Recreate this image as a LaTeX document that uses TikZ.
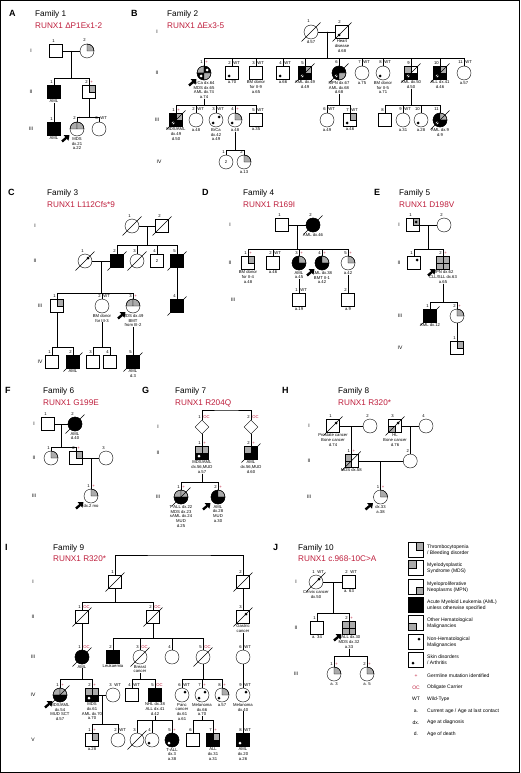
\documentclass[tikz,border=0pt]{standalone}
\usepackage{fontspec}
\setmainfont{Liberation Sans}
\usetikzlibrary{calc,shapes.geometric,arrows.meta}
\definecolor{runx}{RGB}{190,30,60}
\def\hs{6.5}
\newcommand{\tny}{\fontsize{4.2}{4.7}\selectfont}
\newcommand{\gsz}{\fontsize{5}{6}\selectfont}
\newcommand{\hdr}{\fontsize{8.2}{9}\selectfont}
\newcommand{\pl}{\textcolor{runx}{+}}
\newcommand{\oc}{\textcolor{runx}{OC}}
\tikzset{
  msym/.style={draw, rectangle, minimum size={2*\hs*1pt}, inner sep=0pt, font=\tny},
  fsym/.style={draw, circle, minimum size=14pt, inner sep=0pt, font=\tny},
  dsym/.style={draw, diamond, minimum size=14pt, inner sep=0pt},
  qW/.style={}, qG/.style={fill=black!33, draw}, qK/.style={fill=black, draw},
  inf/.style={anchor=north, align=center, font=\tny, inner sep=0pt},
  gen/.style={font=\gsz, inner sep=0pt},
  parr/.style={-{Triangle[length=4.5pt,width=7pt]}, line width=2.4pt},
  lgd/.style={anchor=west, align=left, font=\fontsize{5}{6}\selectfont, inner sep=0pt},
}
% symbols: [inner text]{name}{x,y}{UL}{UR}{LL}{LR}
\newcommand{\Sq}[7][]{%
  \path[q#4] (#3) rectangle ++(-\hs,-\hs);
  \path[q#5] (#3) rectangle ++(\hs,-\hs);
  \path[q#6] (#3) rectangle ++(-\hs,\hs);
  \path[q#7] (#3) rectangle ++(\hs,\hs);
  \node[msym] (#2) at (#3) {#1};}
\newcommand{\Ci}[7][]{%
  \path[q#4] (#3) -- ++(180:7) arc (180:270:7) -- cycle;
  \path[q#5] (#3) -- ++(270:7) arc (270:360:7) -- cycle;
  \path[q#6] (#3) -- ++(90:7) arc (90:180:7) -- cycle;
  \path[q#7] (#3) -- ++(0:7) arc (0:90:7) -- cycle;
  \node[fsym] (#2) at (#3) {#1};}
\newcommand{\Num}[3]{%
  \node[anchor=base east, font=\tny, inner sep=0pt] (#1-n) at ([xshift=-1pt,yshift=1.8pt]#1.north) {#2};
  \node[anchor=base west, font=\tny, inner sep=0pt] (#1-m) at ([xshift=1.2pt,yshift=1.8pt]#1.north) {#3};}
\newcommand{\Inf}[2]{\node[inf] (#1-i) at ([yshift=-1pt]#1.south) {#2};}
\newcommand{\Dead}[1]{\draw ([xshift=-9.5pt,yshift=-9.5pt]#1.center) -- ([xshift=9.5pt,yshift=9.5pt]#1.center);}
\newcommand{\DUR}[2][black]{\fill[#1] ([xshift=3pt,yshift=3pt]#2.center) circle (1.5);}
\newcommand{\DLL}[2][black]{\fill[#1] ([xshift=-3pt,yshift=-3pt]#2.center) circle (1.5);}
\newcommand{\Prob}[1]{\draw[parr] ([xshift=-15pt,yshift=-12.5pt]#1.center) -- ([xshift=-7.5pt,yshift=-6pt]#1.center);}
\newcommand{\Sib}[3]{\coordinate (sb) at (0,#2);
  \foreach \kid in {#3}{\draw (#1) -- (#1 |- sb) -| (\kid.north);}}
\newcommand{\Mate}[3]{\draw (#2.east) -- (#3.west);
  \coordinate (#1) at ($(#2.east)!.5!(#3.west)$);}
\newcommand{\Fam}[7]{%
  \node[anchor=base west, font=\fontsize{9}{10}\selectfont\bfseries, inner sep=0pt] (#1-l) at (#2,#4) {#5};
  \node[anchor=base west, font=\hdr, inner sep=0pt] (#1-f) at (#3,#4) {Family #6};
  \node[anchor=base west, font=\hdr, text=runx, inner sep=0pt] (#1-r) at (#3,#4+11.5) {RUNX1 #7};}

\begin{document}
\begin{tikzpicture}[x=1pt,y=-1pt]
\useasboundingbox (0,0) rectangle (520,773);
\draw[line width=1.2pt] (0.6,0.6) rectangle (519.4,772.4);

%%%%% Family 1 %%%%%
\Fam{hA}{9}{35}{17}{A}{1}{ΔP1Ex1-2}
\node[gen] (gA1) at (31,51) {I};
\node[gen] (gA2) at (31,92) {II};
\node[gen] (gA3) at (31,129) {III};
\Sq{A1-1}{56,51}{W}{W}{W}{W} \Num{A1-1}{1}{}
\Ci{A1-2}{87,51}{W}{G}{W}{W} \Num{A1-2}{2}{}
\Sq{A2-1}{54,92}{K}{K}{K}{K} \Num{A2-1}{1}{} \Inf{A2-1}{AML}
\Sq{A2-2}{89,92}{W}{G}{W}{W} \Num{A2-2}{2}{\pl}
\Sq{A3-1}{54,129}{K}{K}{K}{K} \Num{A3-1}{1}{} \Inf{A3-1}{AML}
\Ci{A3-2}{77,129}{G}{G}{W}{W} \Num{A3-2}{2}{\pl} \Inf{A3-2}{MDS\\dx.21\\a.22} \Prob{A3-2}
\Ci{A3-3}{99,129}{W}{W}{W}{W} \Num{A3-3}{3}{WT}
\Mate{mA1}{A1-1}{A1-2}
\Sib{mA1}{78}{A2-1,A2-2}
\draw (A2-1-i.south) -- (A3-1.north);
\Sib{A2-2.south}{117}{A3-2,A3-3}

%%%%% Family 2 %%%%%
\Fam{hB}{131}{167}{17}{B}{2}{ΔEx3-5}
\node[gen] (gB1) at (157,32) {I};
\node[gen] (gB2) at (157,73) {II};
\node[gen] (gB3) at (157,120) {III};
\node[gen] (gB4) at (159,162) {IV};
\Ci{B1-1}{311,32}{W}{W}{W}{W} \Num{B1-1}{1}{} \Dead{B1-1} \Inf{B1-1}{d.57}
\Sq{B1-2}{342,32}{W}{W}{W}{W} \DLL{B1-2} \Dead{B1-2} \Num{B1-2}{2}{} \Inf{B1-2}{Heart\\disease\\d.68}
\Ci{B2-1}{204,73}{G}{K}{K}{G} \DUR[white]{B2-1} \DLL[white]{B2-1} \Num{B2-1}{1}{\pl} \Prob{B2-1}
\Inf{B2-1}{BrCa dx.64\\MDS dx.65\\AML dx.74\\a.74}
\Sq{B2-2}{232,73}{W}{W}{W}{W} \DLL{B2-2} \Num{B2-2}{2}{WT} \Inf{B2-2}{a.70}
\Sq{B2-3}{256,73}{W}{W}{W}{W} \Num{B2-3}{3}{WT} \Inf{B2-3}{BM donor\\for II-9\\a.65}
\Sq{B2-4}{283,73}{W}{W}{W}{W} \DLL{B2-4} \Num{B2-4}{4}{WT} \Inf{B2-4}{a.66}
\Sq{B2-5}{305,73}{K}{G}{K}{K} \DLL[white]{B2-5} \Dead{B2-5} \Num{B2-5}{5}{} \Inf{B2-5}{AML dx.49\\d.49}
\Ci{B2-6}{339,73}{K}{K}{K}{G} \DLL[white]{B2-6} \Dead{B2-6} \Num{B2-6}{6}{} \Inf{B2-6}{MPN dx.67\\AML dx.68\\d.68}
\Ci{B2-7}{362,73}{W}{W}{W}{W} \Num{B2-7}{7}{WT} \Inf{B2-7}{a.75}
\Ci{B2-8}{383,73}{W}{W}{W}{W} \DLL{B2-8} \Num{B2-8}{8}{WT} \Inf{B2-8}{BM donor\\for II-5\\a.71}
\Sq{B2-9}{411,73}{G}{W}{K}{K} \DLL[white]{B2-9} \Dead{B2-9} \Num{B2-9}{9}{} \Inf{B2-9}{AML dx.50\\d.50}
\Sq{B2-10}{440,73}{K}{G}{K}{K} \DLL[white]{B2-10} \Dead{B2-10} \Num{B2-10}{10}{} \Inf{B2-10}{ALL dx.41\\d.46}
\Ci{B2-11}{464,73}{W}{W}{W}{W} \Num{B2-11}{11}{WT} \Inf{B2-11}{a.57}
\Sq{B3-1}{176,120}{K}{G}{K}{K} \DLL[white]{B3-1} \Dead{B3-1} \Num{B3-1}{1}{\pl} \Inf{B3-1}{MDS/AML\\dx.49\\d.50}
\Ci{B3-2}{196,120}{W}{W}{W}{W} \Num{B3-2}{2}{WT} \Inf{B3-2}{a.48}
\Ci{B3-3}{216,120}{W}{W}{W}{W} \DUR{B3-3} \DLL{B3-3} \Num{B3-3}{3}{WT} \Inf{B3-3}{BrCa\\dx.42\\a.49}
\Ci{B3-4}{235,120}{W}{G}{W}{W} \DLL{B3-4} \Num{B3-4}{4}{\pl} \Inf{B3-4}{a.48}
\Sq{B3-5}{256,120}{W}{W}{W}{W} \Num{B3-5}{5}{WT} \Inf{B3-5}{a.35}
\Ci{B3-6}{327,120}{W}{W}{W}{W} \Num{B3-6}{6}{WT} \Inf{B3-6}{a.49}
\Sq{B3-7}{350,120}{W}{G}{W}{W} \DLL{B3-7} \Num{B3-7}{7}{WT} \Inf{B3-7}{a.46}
\Sq{B3-8}{385,120}{W}{W}{W}{W} \Num{B3-8}{8}{}
\Ci{B3-9}{403,120}{W}{W}{W}{W} \Num{B3-9}{9}{WT} \Inf{B3-9}{a.31}
\Ci{B3-10}{421,120}{W}{W}{W}{W} \DLL{B3-10} \Num{B3-10}{10}{} \Inf{B3-10}{a.28}
\Ci{B3-11}{440,120}{K}{G}{K}{K} \DLL[white]{B3-11} \Dead{B3-11} \Num{B3-11}{11}{} \Inf{B3-11}{AML dx.9\\d.9}
\Ci[2]{B4-1}{226,162}{W}{W}{W}{W} \Num{B4-1}{1}{}
\Ci{B4-2}{244,162}{W}{G}{W}{W} \Num{B4-2}{2}{} \Inf{B4-2}{a.13}
\Mate{mB1}{B1-1}{B1-2}
\Sib{mB1}{58}{B2-1,B2-2,B2-3,B2-4,B2-5,B2-6,B2-7,B2-8,B2-9,B2-10,B2-11}
\Sib{B2-1-i.south}{105}{B3-1,B3-2,B3-3,B3-4,B3-5}
\Sib{B2-6-i.south}{105}{B3-6,B3-7}
\Sib{B2-9-i.south}{105}{B3-8,B3-9,B3-10,B3-11}
\Sib{B3-4-i.south}{150}{B4-1,B4-2}

%%%%% Family 3 %%%%%
\Fam{hC}{8}{47}{195.5}{C}{3}{L112Cfs*9}
\node[gen] (gC1) at (35,226) {I};
\node[gen] (gC2) at (35,261) {II};
\node[gen] (gC3) at (40,306) {III};
\node[gen] (gC4) at (40,362) {IV};
\Ci{C1-1}{132,226}{W}{W}{W}{W} \Dead{C1-1} \Num{C1-1}{1}{}
\Sq{C1-2}{162,226}{W}{W}{W}{W} \Dead{C1-2} \Num{C1-2}{2}{}
\Ci{C2-1}{85,261}{W}{W}{W}{W} \DUR{C2-1} \Dead{C2-1} \Num{C2-1}{1}{}
\Sq{C2-2}{117,261}{K}{K}{K}{K} \Dead{C2-2} \Num{C2-2}{2}{}
\Ci{C2-3}{137,261}{W}{W}{W}{W} \Dead{C2-3} \Num{C2-3}{3}{}
\Sq[2]{C2-4}{157,261}{W}{W}{W}{W} \Num{C2-4}{4}{}
\Sq{C2-5}{177,261}{K}{K}{K}{K} \Dead{C2-5} \Num{C2-5}{5}{}
\Sq{C3-1}{57,306}{W}{G}{W}{W} \Num{C3-1}{1}{}
\Ci{C3-2}{102,306}{W}{W}{W}{W} \Num{C3-2}{2}{WT} \Inf{C3-2}{BM donor\\for III-3}
\Ci{C3-3}{133,306}{G}{G}{W}{W} \Num{C3-3}{3}{\pl} \Prob{C3-3} \Inf{C3-3}{MDS dx.49\\BMT\\from III-2}
\Sq{C3-4}{177,306}{K}{K}{K}{K} \Dead{C3-4} \Num{C3-4}{4}{}
\Sq{C4-1}{52,362}{W}{W}{W}{W} \Num{C4-1}{1}{}
\Sq{C4-2}{73,362}{K}{K}{K}{K} \Dead{C4-2} \Num{C4-2}{2}{} \Inf{C4-2}{AML}
\Sq{C4-3}{93,362}{W}{W}{W}{W} \Num{C4-3}{3}{}
\Sq{C4-4}{110,362}{W}{W}{W}{W} \Num{C4-4}{4}{}
\Sq{C4-5}{133,362}{K}{K}{K}{K} \Dead{C4-5} \Num{C4-5}{5}{} \Inf{C4-5}{AML\\d.3}
\Mate{mC1}{C1-1}{C1-2}
\Sib{mC1}{245}{C2-2,C2-3,C2-4,C2-5}
\Mate{mC2}{C2-1}{C2-2}
\Sib{mC2}{293}{C3-1,C3-2,C3-3}
\draw (C2-5.south) -- (C3-4.north);
\Sib{C3-1.south}{347}{C4-1,C4-2}
\Sib{C3-2-i.south}{347}{C4-3,C4-4}
\draw (C3-3-i.south) -- (C4-5.north);

%%%%% Family 4 %%%%%
\Fam{hD}{202}{243}{195.5}{D}{4}{R169I}
\node[gen] (gD1) at (230,225) {I};
\node[gen] (gD2) at (230,263) {II};
\node[gen] (gD3) at (233,300) {III};
\Sq{D1-1}{282,225}{W}{W}{W}{W} \Num{D1-1}{1}{}
\Ci{D1-2}{313,225}{K}{K}{K}{K} \Dead{D1-2} \Num{D1-2}{2}{} \Inf{D1-2}{AML dx.46}
\Sq{D2-1}{248,263}{W}{G}{W}{W} \Num{D2-1}{1}{\pl} \Inf{D2-1}{BM donor\\for II-4\\a.48}
\Sq{D2-2}{273,263}{W}{W}{W}{W} \Num{D2-2}{2}{WT} \Inf{D2-2}{a.46}
\Ci{D2-3}{299,263}{K}{G}{K}{K} \Num{D2-3}{3}{\pl} \Inf{D2-3}{AML\\a.45}
\Ci{D2-4}{322,263}{K}{G}{K}{K} \Num{D2-4}{4}{\pl} \Prob{D2-4} \Inf{D2-4}{AML dx.38\\BMT II-1\\a.42}
\Ci{D2-5}{348,263}{W}{G}{W}{W} \Num{D2-5}{5}{\pl} \Inf{D2-5}{a.42}
\Sq{D3-1}{299,300}{W}{W}{W}{W} \Num{D3-1}{1}{WT} \Inf{D3-1}{a.19}
\Sq{D3-2}{348,300}{W}{W}{W}{W} \Num{D3-2}{2}{} \Inf{D3-2}{a.9}
\Mate{mD1}{D1-1}{D1-2}
\Sib{mD1}{249}{D2-1,D2-2,D2-3,D2-4,D2-5}
\draw (D2-3-i.south) -- (D3-1.north);
\draw (D2-5-i.south) -- (D3-2.north);

%%%%% Family 5 %%%%%
\Fam{hE}{374}{399}{195.5}{E}{5}{D198V}
\node[gen] (gE1) at (399,225) {I};
\node[gen] (gE2) at (399,263) {II};
\node[gen] (gE3) at (400,316) {III};
\node[gen] (gE4) at (400,348) {IV};
\Sq{E1-1}{413,225}{W}{G}{W}{W} \DUR{E1-1} \Num{E1-1}{1}{}
\Ci{E1-2}{444,225}{W}{W}{W}{W} \Num{E1-2}{2}{}
\Sq{E2-1}{414,263}{W}{W}{W}{W} \DUR{E2-1} \Num{E2-1}{1}{}
\Sq{E2-2}{443,263}{G}{G}{G}{G} \Num{E2-2}{2}{\pl} \Prob{E2-2} \Inf{E2-2}{MPN dx.62\\CLL/SLL dx.63\\a.65}
\Sq{E3-1}{430,316}{K}{K}{K}{K} \Dead{E3-1} \Num{E3-1}{1}{} \Inf{E3-1}{AML dx.12}
\Ci{E3-2}{457,316}{W}{G}{W}{W} \Num{E3-2}{2}{\pl}
\Sq{E4-1}{457,348}{W}{G}{W}{W} \Num{E4-1}{1}{}
\Mate{mE1}{E1-1}{E1-2}
\Sib{mE1}{249}{E2-1,E2-2}
\Sib{E2-2-i.south}{302}{E3-1,E3-2}
\draw (E3-2.south) -- (E4-1.north);

%%%%% Family 6 %%%%%
\Fam{hF}{5}{43}{393.5}{F}{6}{G199E}
\node[gen] (gF1) at (34,424) {I};
\node[gen] (gF2) at (34,458) {II};
\node[gen] (gF3) at (34,496) {III};
\Sq{F1-1}{48,424}{W}{W}{W}{W} \Num{F1-1}{1}{}
\Ci{F1-2}{75,424}{K}{K}{K}{K} \Dead{F1-2} \Num{F1-2}{2}{} \Inf{F1-2}{AML\\d.40}
\Ci{F2-1}{51,458}{W}{G}{W}{W} \Num{F2-1}{1}{}
\Sq{F2-2}{76,458}{W}{G}{W}{W} \Num{F2-2}{2}{\pl}
\Ci{F2-3}{106,458}{W}{W}{W}{W} \Num{F2-3}{3}{}
\Ci{F3-1}{91,496}{W}{G}{W}{W} \Num{F3-1}{1}{\pl} \Prob{F3-1} \Inf{F3-1}{dx.2 mo}
\Mate{mF1}{F1-1}{F1-2}
\Sib{mF1}{447}{F2-1,F2-2}
\Mate{mF2}{F2-2}{F2-3}
\draw (mF2) -- (mF2 |- F3-1.north);

%%%%% Family 7 %%%%%
\Fam{hG}{142}{175}{393.5}{G}{7}{R204Q}
\node[gen] (gG1) at (158,427) {I};
\node[gen] (gG2) at (158,453) {II};
\node[gen] (gG3) at (158,497) {III};
\node[dsym] (G1-1) at (202,427) {}; \Num{G1-1}{1}{\oc}
\node[dsym] (G1-2) at (251,427) {}; \Num{G1-2}{2}{\oc}
\Sq{G2-1}{202,453}{G}{G}{K}{K} \DLL[white]{G2-1} \Num{G2-1}{1}{\pl} \Inf{G2-1}{MDS/AML\\dx.56,MUD\\a.57}
\Sq{G2-2}{251,453}{G}{K}{K}{K} \Dead{G2-2} \Num{G2-2}{2}{\pl} \Inf{G2-2}{AML\\dx.56,MUD\\d.60}
\Ci{G3-1}{181,497}{G}{G}{K}{K} \Dead{G3-1} \Num{G3-1}{1}{\pl} \Inf{G3-1}{T-ALL dx.22\\MDS dx.23\\sAML dx.24\\MUD\\d.25}
\Ci{G3-2}{218,497}{K}{G}{K}{K} \Num{G3-2}{2}{\pl} \Prob{G3-2} \Inf{G3-2}{AML\\dx.28\\MUD\\a.30}
\coordinate (tG) at (226,410);
\draw (G1-1.north) |- (tG) -| (G1-2.north);
\draw (G1-1.south) -- (G2-1.north);
\draw (G1-2.south) -- (G2-2.north);
\Sib{G2-1-i.south}{482}{G3-1,G3-2}

%%%%% Family 8 %%%%%
\Fam{hH}{282}{338}{393.5}{H}{8}{R320*}
\node[gen] (gH1) at (309,426) {I};
\node[gen] (gH2) at (309,461) {II};
\node[gen] (gH3) at (309,497) {III};
\Sq{H1-1}{333,426}{W}{W}{W}{W} \DUR{H1-1} \Dead{H1-1} \Num{H1-1}{1}{} \Inf{H1-1}{Prostate cancer\\Bone cancer\\d.74}
\Ci{H1-2}{370,426}{W}{W}{W}{W} \Num{H1-2}{2}{}
\Sq{H1-3}{395,426}{W}{W}{G}{W} \DUR{H1-3} \Dead{H1-3} \Num{H1-3}{3}{} \Inf{H1-3}{HL\\Bone cancer\\d.76}
\Ci{H1-4}{426,426}{W}{W}{W}{W} \Num{H1-4}{4}{}
\Sq{H2-1}{351.25,461}{G}{W}{G}{W} \Dead{H2-1} \Num{H2-1}{1}{\pl} \Inf{H2-1}{MDS dx.58}
\Ci{H2-2}{410.25,461}{W}{W}{W}{W} \Num{H2-2}{2}{}
\Ci{H3-1}{380.5,497}{W}{G}{W}{W} \Num{H3-1}{1}{\pl} \Prob{H3-1} \Inf{H3-1}{dx.33\\a.38}
\Mate{mH1}{H1-1}{H1-2}
\draw (mH1) -- (mH1 |- H2-1.north);
\Mate{mH2}{H1-3}{H1-4}
\draw (mH2) -- (mH2 |- H2-2.north);
\Mate{mH3}{H2-1}{H2-2}
\draw (mH3) -- (mH3 |- H3-1.north);

%%%%% Family 9 %%%%%
\Fam{hI}{5}{53}{550}{I}{9}{R320*}
\node[gen] (gI1) at (33,582) {I};
\node[gen] (gI2) at (33,617) {II};
\node[gen] (gI3) at (33,657) {III};
\node[gen] (gI4) at (33,695) {IV};
\node[gen] (gI5) at (33,740) {V};
\Sq{I1-1}{115,582}{W}{W}{W}{W} \Dead{I1-1} \Num{I1-1}{1}{}
\Sq{I1-2}{243,582}{W}{W}{W}{W} \Dead{I1-2} \Num{I1-2}{2}{}
\Sq{I2-1}{82,617}{W}{W}{W}{W} \Dead{I2-1} \Num{I2-1}{1}{\oc}
\Sq{I2-2}{153,617}{W}{W}{W}{W} \Dead{I2-2} \Num{I2-2}{2}{\oc}
\Sq{I2-3}{243,617}{W}{W}{W}{W} \DUR{I2-3} \Dead{I2-3} \Num{I2-3}{3}{} \Inf{I2-3}{Gastric\\cancer}
\Ci{I3-1}{82,657}{K}{K}{K}{K} \Dead{I3-1} \Num{I3-1}{1}{\oc} \Inf{I3-1}{AML}
\Sq{I3-2}{113,657}{K}{K}{K}{K} \Num{I3-2}{2}{} \Inf{I3-2}{Leukaemia}
\Ci{I3-3}{140,657}{W}{W}{W}{W} \Dead{I3-3} \Num{I3-3}{3}{\oc} \Inf{I3-3}{Breast\\cancer}
\Ci{I3-4}{172,657}{W}{W}{W}{W} \Num{I3-4}{4}{}
\Ci{I3-5}{203,657}{W}{W}{W}{W} \Dead{I3-5} \Num{I3-5}{5}{\oc}
\Ci{I3-6}{243,657}{W}{W}{W}{W} \Num{I3-6}{6}{WT}
\Ci{I4-1}{60,695}{G}{G}{K}{K} \Dead{I4-1} \Num{I4-1}{1}{\pl} \Prob{I4-1} \Inf{I4-1}{MDS/AML\\dx.54\\MUD SCT\\d.57}
\Sq{I4-2}{92,695}{G}{G}{K}{K} \DLL[white]{I4-2} \Num{I4-2}{2}{\pl} \Inf{I4-2}{MDS\\dx.61\\AML dx.70\\a.70}
\Ci{I4-3}{113,695}{W}{W}{W}{W} \Num{I4-3}{3}{WT}
\Sq{I4-4}{132,695}{W}{W}{W}{W} \Num{I4-4}{4}{WT}
\Sq{I4-5}{155,695}{K}{K}{K}{K} \Num{I4-5}{5}{\oc} \Inf{I4-5}{NHL dx.38\\ALL dx.41\\d.42}
\Ci{I4-6}{182,695}{W}{W}{W}{W} \DUR{I4-6} \Num{I4-6}{6}{WT} \Inf{I4-6}{Panc\\cancer\\dx.61\\a.61}
\Ci{I4-7}{202,695}{W}{W}{W}{W} \DUR{I4-7} \DLL{I4-7} \Num{I4-7}{7}{\pl} \Inf{I4-7}{Melanoma\\dx.66\\a.70}
\Ci{I4-8}{222,695}{W}{G}{W}{W} \DLL{I4-8} \Num{I4-8}{8}{\pl} \Inf{I4-8}{a.57}
\Ci{I4-9}{243,695}{W}{W}{W}{W} \DUR{I4-9} \Num{I4-9}{9}{WT} \Inf{I4-9}{Melanoma\\dx.40}
\Sq{I5-1}{92,740}{W}{G}{W}{W} \Num{I5-1}{1}{\pl} \Inf{I5-1}{a.28}
\Ci{I5-2}{118,740}{W}{W}{W}{W} \Num{I5-2}{2}{WT}
\Ci{I5-3}{137,740}{W}{W}{W}{W} \Dead{I5-3} \Num{I5-3}{3}{}
\Ci{I5-4}{152,740}{W}{W}{W}{W} \DLL{I5-4} \Num{I5-4}{4}{}
\Ci{I5-5}{172,740}{K}{K}{K}{K} \DLL[white]{I5-5} \Num{I5-5}{5}{\pl} \Inf{I5-5}{T-ALL\\dx.3\\a.38}
\Sq{I5-6}{193,740}{W}{W}{W}{W} \Num{I5-6}{6}{}
\Sq{I5-7}{213,740}{K}{G}{K}{K} \Num{I5-7}{7}{\pl} \Inf{I5-7}{ALL\\dx.31\\a.31}
\Sq{I5-8}{243,740}{K}{K}{K}{K} \DLL[white]{I5-8} \Num{I5-8}{8}{WT} \Inf{I5-8}{AML\\dx.20\\a.26}
\coordinate (tI) at (179,555);
\draw (I1-1.north) |- (tI) -| (I1-2.north);
\Sib{I1-1.south}{602}{I2-1,I2-2}
\draw (I1-2.south) -- (I2-3.north);
\draw (I2-1.south) -- (I3-1.north);
\Sib{I2-2.south}{638}{I3-2,I3-3,I3-4,I3-5}
\draw (I2-3-i.south) -- (I3-6.north);
\Sib{I3-1-i.south}{679}{I4-1,I4-2}
\Sib{I3-3-i.south}{679}{I4-4,I4-5}
\Sib{I3-5.south}{679}{I4-6,I4-7,I4-8}
\draw (I3-6.south) -- (I4-9.north);
\Mate{mI4}{I4-2}{I4-3}
\Sib{mI4}{724}{I5-1,I5-2}
\Sib{I4-5-i.south}{720}{I5-3,I5-4,I5-5}
\Sib{I4-7-i.south}{720}{I5-6,I5-7}
\draw (I4-9-i.south) -- (I5-8.north);

%%%%% Family 10 %%%%%
\Fam{hJ}{273}{298}{550}{J}{10}{c.968-10C>A}
\node[gen] (gJ1) at (296,582) {I};
\node[gen] (gJ2) at (296,628) {II};
\node[gen] (gJ3) at (296,674) {III};
\Ci{J1-1}{316,582}{W}{W}{W}{W} \DUR{J1-1} \Dead{J1-1} \Num{J1-1}{1}{WT} \Inf{J1-1}{Cervix cancer\\dx.50}
\Sq{J1-2}{349,582}{W}{W}{W}{W} \Num{J1-2}{2}{WT} \Inf{J1-2}{a. 63}
\Sq{J2-1}{317,628}{W}{W}{W}{W} \Num{J2-1}{1}{} \Inf{J2-1}{a. 34}
\Sq{J2-2}{349,628}{G}{G}{G}{G} \Num{J2-2}{2}{\pl} \Prob{J2-2} \Inf{J2-2}{T-ALL dx.30\\MDS dx.32\\a.33}
\Ci{J3-1}{334,674}{W}{G}{W}{W} \Num{J3-1}{1}{\pl} \Inf{J3-1}{a. 3}
\Ci{J3-2}{367,674}{W}{G}{W}{W} \Num{J3-2}{2}{\pl} \Inf{J3-2}{a. 5}
\Mate{mJ1}{J1-1}{J1-2}
\Sib{mJ1}{613}{J2-1,J2-2}
\Sib{J2-2-i.south}{656}{J3-1,J3-2}

%%%%% Legend %%%%%
\def\hs{7.5}
\Sq{L1}{416,550}{W}{G}{W}{W} \node[lgd] (L1-t) at (427,550) {Thrombocytopenia\\/ Bleeding disorder};
\Sq{L2}{416,568}{G}{W}{W}{W} \node[lgd] (L2-t) at (427,568) {Myelodysplastic\\Syndrome (MDS)};
\Sq{L3}{416,587}{W}{W}{W}{G} \node[lgd] (L3-t) at (427,587) {Myeloproliferative\\Neoplasms (MPN)};
\Sq{L4}{416,605}{K}{K}{K}{K} \node[lgd] (L4-t) at (427,605) {Acute Myeloid Leukemia (AML)\\unless otherwise specified};
\Sq{L5}{416,623}{W}{W}{G}{W} \node[lgd] (L5-t) at (427,623) {Other Hematological\\Malignancies};
\Sq{L6}{416,642}{W}{W}{W}{W} \DUR{L6} \node[lgd] (L6-t) at (427,642) {Non-Hematological\\Malignancies};
\Sq{L7}{416,660}{W}{W}{W}{W} \DLL{L7} \node[lgd] (L7-t) at (427,660) {Skin disorders\\/ Arthritis};
\node[font=\gsz, text=runx] (L8) at (416,676) {+};   \node[lgd] (L8-t) at (427,676) {Germline mutation identified};
\node[font=\gsz, text=runx] (L9) at (416,687.5) {OC}; \node[lgd] (L9-t) at (427,687.5) {Obligate Carrier};
\node[font=\gsz] (L10) at (416,699) {WT};  \node[lgd] (L10-t) at (427,699) {Wild-Type};
\node[font=\gsz] (L11) at (416,711) {a.};  \node[lgd] (L11-t) at (427,711) {Current age / Age at last contact};
\node[font=\gsz] (L12) at (416,722.5) {dx.}; \node[lgd] (L12-t) at (427,722.5) {Age at diagnosis};
\node[font=\gsz] (L13) at (416,734) {d.};  \node[lgd] (L13-t) at (427,734) {Age of death};
\end{tikzpicture}
\end{document}
